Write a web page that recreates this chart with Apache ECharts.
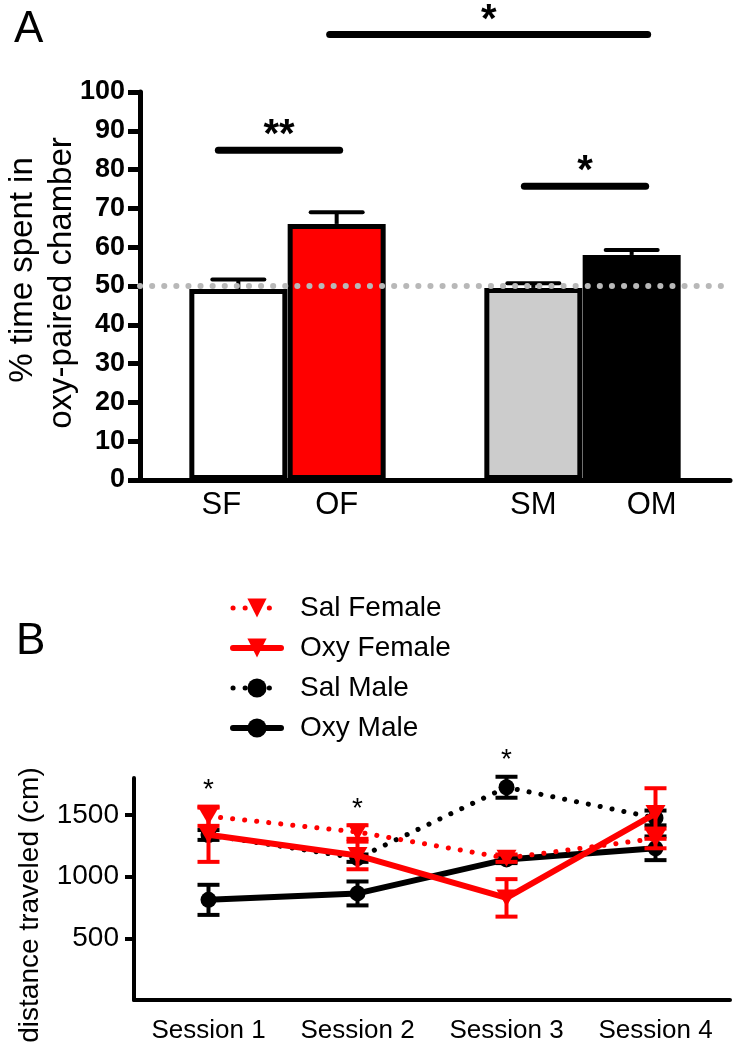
<!DOCTYPE html>
<html>
<head>
<meta charset="utf-8">
<script src="https://cdn.jsdelivr.net/npm/echarts@6/dist/echarts.min.js"></script>
<style>
html,body{margin:0;padding:0;background:#fff;}
#chart{width:734px;height:1050px;}
</style>
</head>
<body>
<div id="chart"></div>
<script>
// ---------- Panel A data ----------
const groups = ['SF', 'OF', 'SM', 'OM'];
const prefMeans = [49.2, 66.0, 49.5, 58.0];
const prefSem = [2.5, 3.0, 1.2, 1.3];
const chanceLevel = 50;
// significance annotations: [from group, to group, bar height (value), label]
const sigBars = [
  ['SF', 'OF', 85.0, '**'],
  ['SM', 'OM', 75.7, '*'],
  ['OF', 'OM', 114.8, '*']
];
const yTicksA = [0, 10, 20, 30, 40, 50, 60, 70, 80, 90, 100];

// ---------- Panel B data ----------
const sessions = ['Session 1', 'Session 2', 'Session 3', 'Session 4'];
const salFemale = [1490, 1362, 1150, 1310];
const salFemaleErr = [78, 55, 30, 80];
const oxyFemale = [1340, 1172, 828, 1512];
const oxyFemaleErr = [220, 112, 152, 205];
const salMale = [1338, 1150, 1725, 1476];
const salMaleErr = [40, 30, 85, 60];
const oxyMale = [812, 864, 1140, 1230];
const oxyMaleErr = [122, 97, 30, 96];
const sessionSig = ['*', '*', '*', ''];
const yTicksB = [500, 1000, 1500];

// ---------- styles ----------
const F = "'Liberation Sans', Arial, Helvetica, sans-serif";
const RED = '#ff0000';
const BLACK = '#000000';
const barFills = ['#ffffff', '#ff0000', '#cccccc', '#000000'];
// pixel extension of significance lines beyond bar centres [left, right]
const sigExt = [[-20, 3], [-9, 14], [-7, 16]];

// category slots with gaps (layout helper built from groups)
const slotCats = [' ', groups[0], groups[1], '  ', groups[2], groups[3], '   '];
const barData = slotCats.map(c => {
  const i = groups.indexOf(c);
  if (i < 0) return '-';
  return { value: prefMeans[i], itemStyle: { color: barFills[i] } };
});
const catLabelStyle = slotCats.map(c => {
  if (c === 'SF') return { value: c, textStyle: { padding: [0, 34, 0, 0] } };
  if (c === 'OM') return { value: c, textStyle: { padding: [0, 0, 0, 40] } };
  return c;
});

function errRender(color, capHalf, lw) {
  return function (params, api) {
    const x = api.value(0), m = api.value(1), e = api.value(2);
    const lo = api.coord([x, m - e]);
    const hi = api.coord([x, m + e]);
    return {
      type: 'group',
      children: [
        { type: 'line', shape: { x1: hi[0], y1: lo[1], x2: hi[0], y2: hi[1] }, style: { stroke: color, lineWidth: lw } },
        { type: 'line', shape: { x1: hi[0] - capHalf, y1: hi[1], x2: hi[0] + capHalf, y2: hi[1] }, style: { stroke: color, lineWidth: lw } },
        { type: 'line', shape: { x1: lo[0] - capHalf, y1: lo[1], x2: lo[0] + capHalf, y2: lo[1] }, style: { stroke: color, lineWidth: lw } }
      ]
    };
  };
}
function errRenderUp(color, capHalf, lw) {
  return function (params, api) {
    const x = api.value(0), m = api.value(1), e = api.value(2);
    const base = api.coord([x, m]);
    const hi = api.coord([x, m + e]);
    return {
      type: 'group',
      children: [
        { type: 'line', shape: { x1: hi[0], y1: base[1], x2: hi[0], y2: hi[1] }, style: { stroke: color, lineWidth: lw } },
        { type: 'line', shape: { x1: hi[0] - capHalf, y1: hi[1], x2: hi[0] + capHalf, y2: hi[1] }, style: { stroke: color, lineWidth: lw, lineCap: 'round' } }
      ]
    };
  };
}

const groupsB = [
  { name: 'Sal Male', mean: salMale, err: salMaleErr, color: BLACK, dotted: true, symbol: 'circle', size: 16, rot: 0 },
  { name: 'Oxy Male', mean: oxyMale, err: oxyMaleErr, color: BLACK, dotted: false, symbol: 'circle', size: 16, rot: 0 },
  { name: 'Sal Female', mean: salFemale, err: salFemaleErr, color: RED, dotted: true, symbol: 'triangle', size: [20, 17], rot: 180 },
  { name: 'Oxy Female', mean: oxyFemale, err: oxyFemaleErr, color: RED, dotted: false, symbol: 'triangle', size: [20, 17], rot: 180 }
];

const seriesB = [];
groupsB.forEach((g, k) => {
  seriesB.push({
    type: 'custom',
    xAxisIndex: 1, yAxisIndex: 1,
    z: 3 + k * 2,
    renderItem: errRender(g.color, 11, 4),
    encode: { x: 0, y: 1 },
    data: g.mean.map((v, i) => [i, v, g.err[i]])
  });
  seriesB.push({
    type: 'line',
    name: g.name,
    xAxisIndex: 1, yAxisIndex: 1,
    z: 4 + k * 2,
    data: g.mean,
    symbol: g.symbol,
    symbolSize: g.size,
    symbolRotate: g.rot,
    showSymbol: true,
    itemStyle: { color: g.color },
    lineStyle: g.dotted
      ? { color: g.color, width: 5, type: [0.1, 12], cap: 'round' }
      : { color: g.color, width: 6, type: 'solid' }
  });
});

const chart = echarts.init(document.getElementById('chart'), null, { renderer: 'canvas' });

const option = {
  animation: false,
  backgroundColor: '#ffffff',
  textStyle: { fontFamily: F },
  grid: [
    { left: 140, top: 92, right: 4, height: 388, outerBoundsMode: 'none', containLabel: false },
    { left: 134, top: 778, right: 4, height: 222, outerBoundsMode: 'none', containLabel: false }
  ],
  legend: {
    data: ['Sal Female', 'Oxy Female', 'Sal Male', 'Oxy Male'],
    orient: 'vertical',
    left: 225,
    top: 588,
    itemWidth: 48,
    itemHeight: 24,
    itemGap: 10,
    lineStyle: { width: 'inherit', type: 'inherit', cap: 'round' },
    textStyle: { fontSize: 28, color: '#000', fontFamily: F, lineHeight: 30, padding: [0, 0, 0, 14] }
  },
  xAxis: [
    {
      gridIndex: 0, type: 'category', data: catLabelStyle, boundaryGap: false,
      axisLine: { lineStyle: { color: '#000', width: 5 } },
      axisTick: { show: false },
      axisLabel: { color: '#000', fontSize: 31, fontFamily: F, margin: 10, interval: 0 }
    },
    {
      gridIndex: 1, type: 'category', data: sessions, boundaryGap: true,
      axisLine: { lineStyle: { color: '#000', width: 4 } },
      axisTick: { inside: true, length: 15, alignWithLabel: true, lineStyle: { color: '#000', width: 4 } },
      axisLabel: { color: '#000', fontSize: 26, fontFamily: F, margin: 18 }
    }
  ],
  yAxis: [
    {
      gridIndex: 0, type: 'value', min: 0, max: 100, interval: 10,
      splitLine: { show: false },
      axisLine: { show: true, lineStyle: { color: '#000', width: 5 } },
      axisTick: { show: true, length: 12, customValues: yTicksA, lineStyle: { color: '#000', width: 5 } },
      axisLabel: { customValues: yTicksA, color: '#000', fontSize: 27, fontWeight: 'bold', fontFamily: F, margin: 15 }
    },
    {
      gridIndex: 1, type: 'value', min: 0, max: 1800, interval: 500,
      splitLine: { show: false },
      axisLine: { show: true, lineStyle: { color: '#000', width: 4 } },
      axisTick: { show: true, length: 9, customValues: yTicksB, lineStyle: { color: '#000', width: 4 } },
      axisLabel: { customValues: yTicksB, formatter: v => String(v), color: '#000', fontSize: 28, fontFamily: F, margin: 15 }
    }
  ],
  series: [
    {
      type: 'bar',
      xAxisIndex: 0, yAxisIndex: 0,
      barWidth: 98,
      data: barData,
      itemStyle: { borderColor: '#000', borderWidth: 5 },
      z: 2,
      markLine: {
        silent: true, symbol: 'none', label: { show: false },
        lineStyle: { color: '#b8b8b8', width: 6, type: [0.1, 12], cap: 'round' },
        data: [{ yAxis: chanceLevel }],
        z: 10
      }
    },
    {
      type: 'custom',
      xAxisIndex: 0, yAxisIndex: 0,
      z: 3,
      renderItem: errRenderUp('#000', 26, 4),
      encode: { x: 0, y: 1 },
      data: groups.map((g, i) => [g, prefMeans[i], prefSem[i]])
    }
  ].concat(seriesB)
};

chart.setOption(option);

// ---------- annotations (positions derived through the axes) ----------
const gfx = [];
sigBars.forEach((s, k) => {
  const p1 = chart.convertToPixel({ xAxisIndex: 0, yAxisIndex: 0 }, [s[0], s[2]]);
  const p2 = chart.convertToPixel({ xAxisIndex: 0, yAxisIndex: 0 }, [s[1], s[2]]);
  const x1 = p1[0] + sigExt[k][0], x2 = p2[0] + sigExt[k][1];
  gfx.push({ type: 'line', shape: { x1: x1, y1: p1[1], x2: x2, y2: p1[1] }, style: { stroke: '#000', lineWidth: 7, lineCap: 'round' }, z: 20 });
  gfx.push({ type: 'text', x: (x1 + x2) / 2, y: p1[1] - 14, style: { text: s[3], font: 'bold 40px ' + F, fill: '#000', textAlign: 'center', textVerticalAlign: 'middle' }, z: 20 });
});
sessionSig.forEach((s, i) => {
  if (!s) return;
  const tops = groupsB.map(g => g.mean[i] + g.err[i]);
  const p = chart.convertToPixel({ xAxisIndex: 1, yAxisIndex: 1 }, [i, Math.max.apply(null, tops)]);
  gfx.push({ type: 'text', x: p[0], y: p[1] - 16, style: { text: s, font: '28px ' + F, fill: '#000', textAlign: 'center', textVerticalAlign: 'middle' }, z: 20 });
});
// panel letters and axis titles
gfx.push({ type: 'text', x: 14, y: 8, style: { text: 'A', font: '44px ' + F, fill: '#000' }, z: 20 });
gfx.push({ type: 'text', x: 16, y: 620, style: { text: 'B', font: '44px ' + F, fill: '#000' }, z: 20 });
gfx.push({ type: 'text', x: 23, y: 270, rotation: Math.PI / 2, style: { text: '% time spent in', font: '33px ' + F, fill: '#000', textAlign: 'center', textVerticalAlign: 'middle' }, z: 20 });
gfx.push({ type: 'text', x: 62, y: 283, rotation: Math.PI / 2, style: { text: 'oxy-paired chamber', font: '33px ' + F, fill: '#000', textAlign: 'center', textVerticalAlign: 'middle' }, z: 20 });
gfx.push({ type: 'text', x: 30, y: 905, rotation: Math.PI / 2, style: { text: 'distance traveled (cm)', font: '28px ' + F, fill: '#000', textAlign: 'center', textVerticalAlign: 'middle' }, z: 20 });

chart.setOption({ graphic: { elements: gfx } });
</script>
</body>
</html>
